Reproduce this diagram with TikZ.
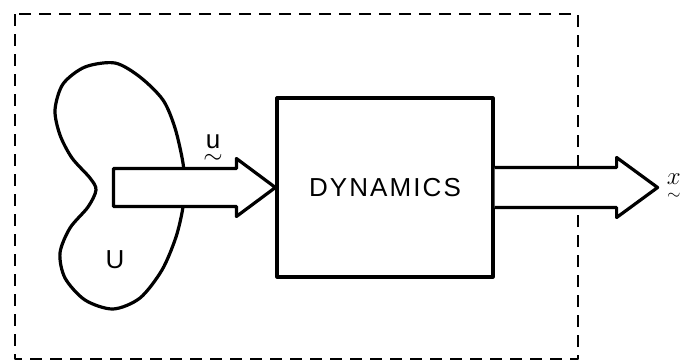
\documentclass[tikz,border=0pt]{standalone}
\usepackage{amsmath}
\usepackage{fontspec}
\setsansfont{Liberation Sans}
\usetikzlibrary{calc}

\begin{document}
\begin{tikzpicture}[x=1pt,y=-1pt,line join=round,
  outline/.style={line width=3.2pt},
  fatarrow/.style={outline,fill=white},
  txt/.style={font=\sffamily\fontsize{26}{30}\selectfont}]
\useasboundingbox (0,0) rectangle (686,364);
\draw[line width=2.8pt,dash pattern=on 12pt off 8pt](15,14) rectangle (578,359);
% the set U
\draw[outline] plot[smooth cycle] coordinates {(183,163)(175,128)(163,100)(140,77)(115,63)(85,67)(63,84)(55,110)(60,135)(72,158)(90,178)(96,190)(88,207)(70,228)(60,253)(65,278)(85,300)(113,309)(140,298)(162,270)(176,237)(183,207)(184,185)};
\node[txt] (Uset) at (115,260) {U};
% block
\node[txt,outline,draw,minimum width=216pt,minimum height=179pt] (dyn) at (385,187.5) {\addfontfeature{LetterSpace=8}DYNAMICS};
% input u
\draw[fatarrow](dyn.west)--++(-39,-29)--++(0,10)--++(-123,0)--++(0,38)--++(123,0)--++(0,10)--cycle;
\node[txt] (ulabel) at (213,150) {$\underset{\displaystyle\sim}{\text{u}}$};
% output x
\draw[fatarrow](dyn.east)++(0,-20)--++(122,0)--++(0,-10)--++(41,30)coordinate(xtip)--++(-41,30)--++(0,-10)--++(-122,0);
\node[txt,anchor=west,inner sep=0pt] (xlabel) at ($(xtip)+(9,0)$) {$\underset{\sim}{x}$};
\end{tikzpicture}
\end{document}
